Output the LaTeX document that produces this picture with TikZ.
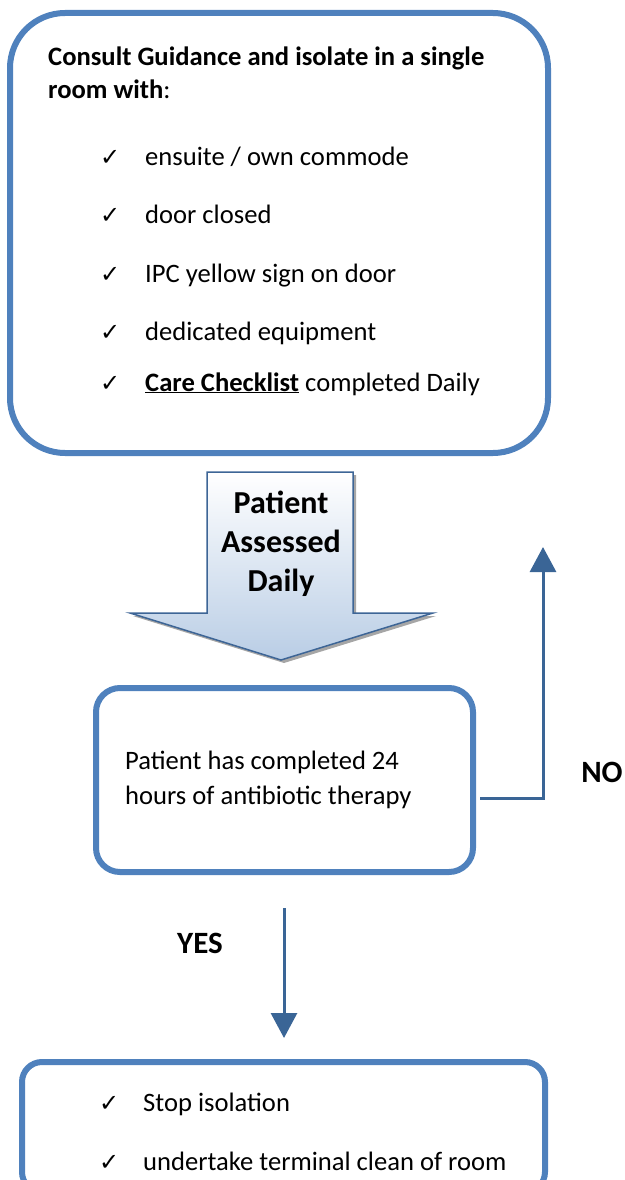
\documentclass[tikz,border=0pt]{standalone}
\usepackage{fontspec}
\setmainfont{Carlito}
\newfontfamily\tickfont{DejaVu Sans}
\usetikzlibrary{arrows.meta}
\definecolor{boxblue}{HTML}{4F81BD}
\definecolor{linkblue}{HTML}{3A6596}
\definecolor{arrowedge}{HTML}{3D6596}
\definecolor{arrowfill}{HTML}{B9CDE5}
\tikzset{%
	>={Triangle[width=26pt,length=25pt]},
	% Specifications for style of nodes:
	panel/.style = {rectangle, draw=boxblue, line width=6pt, inner sep=0pt},
	bigpanel/.style = {panel, rounded corners=55pt},
	smallpanel/.style = {panel, rounded corners=24pt},
	txt/.style = {anchor=base west, inner sep=0pt, font=\fontsize{26.6}{35}\selectfont},
	tick/.style = {anchor=base west, inner sep=0pt, font=\tickfont\fontsize{24}{26}\selectfont},
	label/.style = {inner sep=0pt, font=\bfseries\fontsize{31}{33}\selectfont},
	link/.style = {draw=linkblue, line width=3pt}
}

\begin{document}
\begin{tikzpicture}[x=1pt, y=-1pt]
	\useasboundingbox (0,0) rectangle (624,1180);
	% Specification of boxes (position, etc.)
	\node (guide)  [bigpanel, minimum width=538pt, minimum height=440pt] at (279,233) {};
	\node (check)  [smallpanel, minimum width=377pt, minimum height=184pt] at (284.5,780) {};
	\node (done)   [smallpanel, rounded corners=20pt, minimum width=523pt, minimum height=130pt] at (283.5,1127) {};

	% Texts of the first box
	\node (head1) [txt, font=\bfseries\fontsize{26.6}{35}\selectfont] at (48,66) {Consult Guidance and isolate in a single};
	\node (head2) [txt] at (48,99) {\textbf{room with}:};
	\foreach \y/\t [count=\i] in {165/{ensuite / own commode}, 223/{door closed},
		282/{IPC yellow sign on door}, 340/{dedicated equipment},
		391/{\textbf{\underline{Care Checklist}} completed Daily}} {
		\node (tick\i) [tick] at (100,\y) {✓};
		\node (item\i) [txt] at (145,\y) {\t};
	}

	% Big arrow with its shadow
	\fill[black!35, shift={(3,3)}] (207,472) -- (353,472) -- (353,613) -- (433,613)
		-- (281,660) -- (130,613) -- (207,613) -- cycle;
	\draw[arrowedge, line width=1.5pt, top color=white, bottom color=arrowfill]
		(207,472) -- (353,472) -- (353,613) -- (433,613)
		-- (281,660) -- (130,613) -- (207,613) -- cycle;
	\node (assess) [align=center, inner sep=0pt, font=\bfseries\fontsize{32}{39}\selectfont]
		at (281,544) {Patient\\Assessed\\Daily};

	% Second box
	\node (checktxt) [anchor=west, align=left, inner sep=0pt, font=\fontsize{26.6}{35}\selectfont]
		at (125,780) {Patient has completed 24\\hours of antibiotic therapy};

	% Connectors
	\coordinate (noend) at (543,547);
	\draw[link, ->] ([xshift=4pt, yshift=-18pt]check.east) -| (noend);
	\node (no) [label] at (602,772) {NO};

	\coordinate (yesstart) at (284,908);
	\draw[link, ->, shorten >=21pt] (yesstart) -- (yesstart |- done.north);
	\node (yes) [label] at (200,943) {YES};

	% Texts of the last box
	\foreach \y/\t [count=\i] in {1111/{Stop isolation}, 1170/{undertake terminal clean of room}} {
		\node (endtick\i) [tick] at (99,\y) {✓};
		\node (enditem\i) [txt] at (143,\y) {\t};
	}
\end{tikzpicture}
\end{document}
